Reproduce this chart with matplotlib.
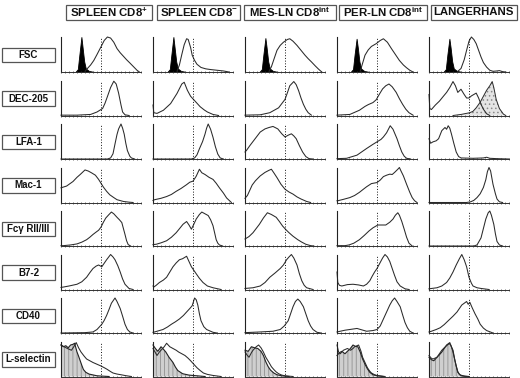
import numpy as np
import matplotlib
matplotlib.use("Agg")
import matplotlib.pyplot as plt
from matplotlib.patches import Rectangle

plt.rcParams['font.family'] = ['Liberation Sans', 'DejaVu Sans']
plt.rcParams['mathtext.fontset'] = 'custom'
plt.rcParams['mathtext.rm'] = 'Liberation Sans:bold'
plt.rcParams['mathtext.it'] = 'Liberation Sans:bold'
plt.rcParams['mathtext.bf'] = 'Liberation Sans:bold'
plt.rcParams['hatch.linewidth'] = 0.6

# ---------------- data ----------------
columns = ['SPLEEN CD8$^{+}$', 'SPLEEN CD8$^{-}$', 'MES-LN CD8$^{\\mathrm{int}}$',
           'PER-LN CD8$^{\\mathrm{int}}$', 'LANGERHANS']
rows = ['FSC', 'DEC-205', 'LFA-1', 'Mac-1', 'Fc\u03b3 RII/III', 'B7-2', 'CD40', 'L-selectin']
cutoff = 0.5  # dashed marker position (fraction of log axis)

FSC_NEG = [
    [(0.18,0),(0.21,0.08),(0.23,0.5),(0.255,1.0),(0.27,0.7),(0.29,0.3),(0.31,0.1),(0.35,0.03),(0.42,0)],
    [(0.18,0),(0.21,0.08),(0.23,0.5),(0.255,1.0),(0.27,0.7),(0.29,0.3),(0.31,0.1),(0.35,0.03),(0.42,0)],
    [(0.18,0),(0.21,0.08),(0.23,0.5),(0.255,0.97),(0.27,0.7),(0.29,0.3),(0.31,0.1),(0.35,0.03),(0.42,0)],
    [(0.17,0),(0.20,0.08),(0.22,0.5),(0.245,0.95),(0.26,0.7),(0.28,0.3),(0.30,0.1),(0.34,0.03),(0.41,0)],
    [(0.18,0),(0.21,0.08),(0.23,0.5),(0.255,0.95),(0.27,0.7),(0.29,0.3),(0.31,0.1),(0.35,0.03),(0.42,0)],
]
FSC_OPEN = [
    [(0.30,0.02),(0.33,0.1),(0.37,0.2),(0.41,0.33),(0.45,0.5),(0.50,0.72),(0.54,0.9),(0.58,1.0),(0.62,0.97),
     (0.66,0.85),(0.70,0.67),(0.74,0.55),(0.78,0.45),(0.82,0.35),(0.86,0.26),(0.89,0.19),(0.92,0.12),(0.95,0.05),(0.98,0)],
    [(0.30,0.02),(0.33,0.2),(0.36,0.5),(0.39,0.78),(0.42,0.95),(0.44,0.93),(0.47,0.7),(0.49,0.48),(0.52,0.33),
     (0.55,0.22),(0.60,0.13),(0.66,0.09),(0.72,0.07),(0.80,0.05),(0.88,0.03),(0.95,0)],
    [(0.30,0.02),(0.33,0.15),(0.37,0.42),(0.40,0.62),(0.44,0.76),(0.48,0.85),(0.53,0.93),(0.56,0.95),(0.60,0.88),
     (0.65,0.76),(0.70,0.62),(0.75,0.48),(0.79,0.38),(0.83,0.29),(0.88,0.17),(0.92,0.08),(0.96,0)],
    [(0.29,0.02),(0.32,0.25),(0.35,0.48),(0.39,0.63),(0.43,0.73),(0.49,0.81),(0.54,0.9),(0.58,0.95),(0.63,0.85),
     (0.68,0.67),(0.73,0.5),(0.78,0.33),(0.83,0.2),(0.87,0.12),(0.91,0.05),(0.95,0)],
    [(0.36,0.02),(0.40,0.1),(0.44,0.35),(0.47,0.62),(0.50,0.88),(0.53,1.0),(0.56,0.93),(0.59,0.81),(0.62,0.62),
     (0.65,0.43),(0.68,0.27),(0.72,0.14),(0.76,0.05),(0.80,0.02),(0.85,0.03),(0.88,0.04),(0.92,0.01),(0.96,0)],
]
DEC205 = [
    [(0.0,0.01),(0.2,0.01),(0.37,0.03),(0.45,0.1),(0.52,0.2),(0.55,0.35),(0.58,0.54),(0.62,0.8),(0.66,0.98),
     (0.69,0.9),(0.72,0.64),(0.75,0.3),(0.77,0.1),(0.80,0.02),(0.85,0)],
    [(0.0,0.3),(0.01,0.08),(0.05,0.06),(0.13,0.15),(0.22,0.34),(0.30,0.63),(0.36,0.9),(0.39,0.95),(0.43,0.72),
     (0.47,0.55),(0.51,0.45),(0.55,0.35),(0.59,0.25),(0.64,0.16),(0.68,0.1),(0.75,0.03),(0.82,0)],
    [(0.0,0.01),(0.19,0.02),(0.31,0.08),(0.42,0.22),(0.50,0.46),(0.53,0.65),(0.56,0.85),(0.61,0.97),(0.64,0.88),
     (0.67,0.71),(0.70,0.5),(0.73,0.32),(0.76,0.18),(0.79,0.08),(0.83,0.01)],
    [(0.0,0.01),(0.16,0.03),(0.28,0.15),(0.35,0.26),(0.39,0.31),(0.45,0.37),(0.49,0.45),(0.53,0.61),(0.57,0.76),
     (0.61,0.85),(0.65,0.9),(0.69,0.82),(0.74,0.66),(0.78,0.48),(0.82,0.32),(0.86,0.18),(0.90,0.08),(0.95,0.01)],
    [(0.0,0.6),(0.01,0.2),(0.03,0.17),(0.08,0.3),(0.13,0.41),(0.18,0.55),(0.22,0.66),(0.26,0.8),(0.30,0.97),
     (0.33,0.85),(0.36,0.66),(0.40,0.75),(0.44,0.6),(0.47,0.5),(0.50,0.5),(0.53,0.56),(0.56,0.6),(0.59,0.64),
     (0.62,0.5),(0.65,0.32),(0.68,0.18),(0.72,0.05),(0.76,0)],
]
DEC205_LC_DOTTED = [(0.30,0.0),(0.40,0.03),(0.51,0.08),(0.55,0.12),(0.59,0.22),(0.64,0.38),(0.68,0.55),
                    (0.72,0.72),(0.76,0.85),(0.79,0.97),(0.81,0.8),(0.84,0.46),(0.88,0.2),(0.93,0.04),(0.96,0)]
LFA1 = [
    [(0.0,0.0),(0.58,0.0),(0.62,0.03),(0.65,0.15),(0.675,0.43),(0.70,0.7),(0.72,0.86),(0.75,1.0),(0.77,0.88),
     (0.79,0.71),(0.81,0.45),(0.83,0.24),(0.86,0.08),(0.88,0.03),(0.92,0)],
    [(0.0,0.0),(0.48,0.0),(0.52,0.03),(0.55,0.12),(0.58,0.29),(0.62,0.5),(0.65,0.71),(0.67,0.88),(0.69,1.0),
     (0.72,0.85),(0.75,0.62),(0.78,0.35),(0.81,0.14),(0.84,0.03),(0.88,0)],
    [(0.0,0.2),(0.02,0.25),(0.06,0.38),(0.10,0.5),(0.15,0.65),(0.19,0.77),(0.25,0.86),(0.30,0.9),(0.35,0.93),
     (0.41,0.86),(0.46,0.72),(0.50,0.63),(0.54,0.68),(0.58,0.72),(0.61,0.66),(0.64,0.58),(0.68,0.38),(0.72,0.2),
     (0.76,0.07),(0.80,0.01),(0.85,0)],
    [(0.0,0.01),(0.12,0.02),(0.25,0.11),(0.37,0.3),(0.45,0.42),(0.50,0.49),(0.55,0.56),(0.58,0.63),(0.62,0.75),
     (0.665,0.95),(0.70,0.85),(0.75,0.58),(0.78,0.38),(0.81,0.2),(0.84,0.08),(0.87,0.02),(0.92,0)],
    [(0.0,0.58),(0.02,0.45),(0.05,0.49),(0.09,0.52),(0.12,0.58),(0.16,0.81),(0.20,0.9),(0.22,0.85),(0.24,0.95),
     (0.26,0.88),(0.28,0.72),(0.31,0.45),(0.34,0.2),(0.37,0.07),(0.40,0.03),(0.55,0.02),(0.68,0.03),(0.72,0.05),
     (0.76,0.02),(0.85,0.01),(1.0,0)],
]
MAC1 = [
    [(0.0,0.42),(0.07,0.47),(0.15,0.6),(0.20,0.72),(0.24,0.8),(0.30,0.93),(0.34,0.9),(0.38,0.85),(0.43,0.78),
     (0.47,0.66),(0.53,0.44),(0.57,0.32),(0.61,0.22),(0.66,0.14),(0.70,0.08),(0.78,0.03),(0.85,0.01),(0.9,0)],
    [(0.0,0.06),(0.02,0.08),(0.10,0.12),(0.17,0.17),(0.23,0.23),(0.29,0.32),(0.35,0.4),(0.42,0.51),(0.46,0.58),
     (0.50,0.61),(0.54,0.75),(0.58,0.95),(0.61,0.85),(0.65,0.8),(0.70,0.72),(0.75,0.66),(0.79,0.55),(0.83,0.42),
     (0.88,0.27),(0.92,0.13),(0.98,0)],
    [(0.0,0.12),(0.03,0.2),(0.06,0.35),(0.09,0.5),(0.13,0.62),(0.19,0.76),(0.25,0.86),(0.30,0.92),(0.33,0.95),
     (0.36,0.85),(0.40,0.71),(0.45,0.52),(0.50,0.38),(0.55,0.3),(0.60,0.24),(0.65,0.16),(0.70,0.1),(0.77,0.03),(0.82,0)],
    [(0.0,0.05),(0.01,0.05),(0.08,0.09),(0.16,0.14),(0.22,0.2),(0.28,0.29),(0.33,0.38),(0.37,0.45),(0.43,0.54),
     (0.50,0.57),(0.54,0.64),(0.58,0.74),(0.62,0.78),(0.66,0.81),(0.69,0.8),(0.72,0.86),(0.76,0.95),(0.78,1.0),
     (0.80,0.9),(0.83,0.76),(0.87,0.52),(0.91,0.29),(0.94,0.14),(0.97,0.05),(1.0,0)],
    [(0.0,0.0),(0.47,0.0),(0.52,0.02),(0.56,0.06),(0.60,0.14),(0.64,0.25),(0.68,0.43),(0.71,0.65),(0.73,0.88),
     (0.75,1.0),(0.77,0.9),(0.80,0.52),(0.83,0.25),(0.85,0.1),(0.88,0.02),(0.92,0)],
]
FCG = [
    [(0.0,0.01),(0.03,0.01),(0.12,0.03),(0.20,0.06),(0.26,0.11),(0.32,0.18),(0.36,0.25),(0.40,0.33),(0.44,0.4),
     (0.47,0.45),(0.50,0.54),(0.53,0.68),(0.56,0.8),(0.60,0.9),(0.63,0.97),(0.66,0.92),(0.70,0.82),(0.73,0.75),
     (0.76,0.67),(0.78,0.5),(0.80,0.33),(0.82,0.15),(0.84,0.04),(0.87,0)],
    [(0.0,0.04),(0.04,0.05),(0.10,0.09),(0.17,0.15),(0.23,0.25),(0.29,0.38),(0.34,0.52),(0.375,0.62),(0.42,0.7),
     (0.45,0.6),(0.48,0.48),(0.51,0.62),(0.54,0.77),(0.58,0.9),(0.61,0.97),(0.65,0.92),(0.69,0.87),(0.72,0.75),
     (0.75,0.58),(0.77,0.38),(0.79,0.18),(0.81,0.08),(0.83,0.03),(0.87,0)],
    [(0.0,0.2),(0.05,0.27),(0.10,0.38),(0.14,0.5),(0.18,0.62),(0.23,0.8),(0.28,0.95),(0.33,0.9),(0.39,0.82),
     (0.43,0.7),(0.47,0.57),(0.51,0.47),(0.55,0.38),(0.60,0.28),(0.66,0.18),(0.71,0.11),(0.76,0.05),(0.82,0.01),(0.86,0)],
    [(0.0,0.01),(0.10,0.01),(0.15,0.03),(0.21,0.08),(0.28,0.18),(0.34,0.3),(0.40,0.43),(0.45,0.52),(0.51,0.6),
     (0.56,0.6),(0.61,0.6),(0.66,0.68),(0.70,0.77),(0.73,0.88),(0.76,0.95),(0.78,0.88),(0.81,0.7),(0.84,0.48),
     (0.87,0.25),(0.90,0.08),(0.94,0)],
    [(0.0,0.0),(0.56,0.0),(0.60,0.03),(0.65,0.23),(0.68,0.5),(0.71,0.77),(0.74,0.95),(0.76,1.0),(0.78,0.88),
     (0.81,0.62),(0.83,0.35),(0.85,0.13),(0.88,0.03),(0.92,0)],
]
B72 = [
    [(0.0,0.06),(0.03,0.07),(0.10,0.1),(0.20,0.15),(0.26,0.22),(0.32,0.35),(0.36,0.48),(0.40,0.6),(0.44,0.67),
     (0.47,0.7),(0.51,0.65),(0.54,0.75),(0.57,0.85),(0.62,1.0),(0.65,0.93),(0.675,0.85),(0.71,0.68),(0.74,0.5),
     (0.77,0.3),(0.80,0.15),(0.85,0.03),(0.9,0)],
    [(0.0,0.1),(0.01,0.07),(0.04,0.12),(0.08,0.2),(0.13,0.27),(0.17,0.35),(0.21,0.5),(0.25,0.65),(0.29,0.76),
     (0.33,0.85),(0.37,0.88),(0.42,0.95),(0.45,0.8),(0.48,0.65),(0.51,0.55),(0.54,0.45),(0.58,0.32),(0.625,0.2),
     (0.68,0.1),(0.75,0.05),(0.85,0)],
    [(0.0,0.03),(0.10,0.05),(0.19,0.1),(0.25,0.2),(0.31,0.35),(0.38,0.48),(0.44,0.6),(0.48,0.7),(0.52,0.85),
     (0.55,0.93),(0.58,1.0),(0.61,0.9),(0.65,0.7),(0.68,0.45),(0.71,0.25),(0.74,0.12),(0.77,0.05),(0.85,0)],
    [(0.0,0.5),(0.01,0.2),(0.03,0.12),(0.06,0.1),(0.13,0.14),(0.20,0.15),(0.27,0.13),(0.33,0.1),(0.37,0.15),
     (0.41,0.25),(0.44,0.38),(0.47,0.5),(0.50,0.6),(0.535,0.75),(0.57,0.9),(0.60,1.0),(0.63,0.93),(0.66,0.8),
     (0.69,0.6),(0.72,0.4),(0.75,0.22),(0.79,0.1),(0.85,0.02),(0.9,0)],
    [(0.0,0.02),(0.10,0.05),(0.16,0.1),(0.22,0.2),(0.26,0.33),(0.30,0.5),(0.34,0.7),(0.38,0.88),(0.41,1.0),
     (0.44,0.85),(0.47,0.65),(0.50,0.35),(0.53,0.18),(0.55,0.1),(0.60,0.05),(0.65,0.03),(0.75,0)],
]
CD40 = [
    [(0.0,0.0),(0.30,0.01),(0.40,0.03),(0.45,0.1),(0.51,0.25),(0.54,0.36),(0.57,0.5),(0.60,0.67),(0.63,0.85),
     (0.675,1.0),(0.70,0.9),(0.74,0.7),(0.77,0.48),(0.80,0.25),(0.83,0.1),(0.86,0.03),(0.9,0)],
    [(0.0,0.02),(0.02,0.03),(0.125,0.1),(0.18,0.17),(0.23,0.25),(0.28,0.32),(0.33,0.4),(0.38,0.5),(0.42,0.6),
     (0.46,0.7),(0.49,0.78),(0.52,1.0),(0.54,0.95),(0.56,0.8),(0.58,0.55),(0.60,0.35),(0.635,0.18),(0.67,0.1),
     (0.75,0.02),(0.8,0)],
    [(0.0,0.01),(0.19,0.03),(0.35,0.05),(0.44,0.1),(0.49,0.2),(0.54,0.35),(0.57,0.55),(0.60,0.75),(0.63,0.9),
     (0.66,0.97),(0.69,0.9),(0.73,0.75),(0.76,0.55),(0.79,0.35),(0.82,0.2),(0.85,0.1),(0.90,0.02),(0.95,0)],
    [(0.0,0.03),(0.04,0.05),(0.10,0.08),(0.16,0.1),(0.25,0.13),(0.31,0.09),(0.37,0.05),(0.45,0.07),(0.50,0.1),
     (0.54,0.2),(0.58,0.4),(0.62,0.6),(0.66,0.8),(0.69,0.92),(0.72,1.0),(0.75,0.9),(0.79,0.75),(0.82,0.52),
     (0.85,0.3),(0.88,0.15),(0.91,0.05),(0.95,0)],
    [(0.0,0.03),(0.03,0.05),(0.09,0.1),(0.14,0.15),(0.19,0.24),(0.24,0.35),(0.30,0.48),(0.35,0.6),(0.38,0.7),
     (0.41,0.8),(0.44,0.85),(0.47,0.9),(0.49,0.82),(0.51,0.88),(0.54,0.72),(0.575,0.55),(0.61,0.4),(0.64,0.25),
     (0.68,0.14),(0.72,0.07),(0.8,0)],
]
LSEL_FILLED = [
    [(0.0,0.9),(0.03,0.85),(0.06,0.88),(0.09,0.82),(0.12,0.9),(0.15,0.92),(0.17,0.95),(0.20,0.7),(0.22,0.58),
     (0.24,0.45),(0.26,0.32),(0.28,0.2),(0.31,0.12),(0.35,0.07),(0.45,0.02),(0.6,0)],
    [(0.0,0.9),(0.03,0.8),(0.06,0.72),(0.10,0.85),(0.13,0.78),(0.16,0.7),(0.20,0.55),(0.25,0.4),(0.28,0.27),
     (0.31,0.17),(0.37,0.08),(0.45,0.04),(0.55,0.02),(0.65,0)],
    [(0.0,0.75),(0.04,0.72),(0.08,0.85),(0.12,0.82),(0.16,0.8),(0.20,0.72),(0.23,0.6),(0.26,0.42),(0.29,0.28),
     (0.32,0.18),(0.36,0.1),(0.40,0.05),(0.46,0.02),(0.55,0)],
    [(0.0,0.6),(0.03,0.68),(0.06,0.72),(0.10,0.65),(0.13,0.72),(0.16,0.78),(0.20,0.9),(0.23,0.86),(0.26,0.85),
     (0.29,0.7),(0.32,0.5),(0.35,0.35),(0.38,0.22),(0.41,0.12),(0.45,0.05),(0.5,0.02),(0.58,0)],
    [(0.0,0.55),(0.03,0.48),(0.06,0.45),(0.10,0.55),(0.13,0.62),(0.16,0.7),(0.19,0.8),(0.22,0.9),(0.25,0.95),
     (0.27,0.9),(0.30,0.75),(0.32,0.5),(0.34,0.3),(0.36,0.12),(0.39,0.04),(0.45,0.01),(0.5,0)],
]
LSEL_OPEN = [
    [(0.0,0.9),(0.04,0.85),(0.08,0.8),(0.13,0.75),(0.16,0.85),(0.19,0.97),(0.22,0.82),(0.25,0.7),(0.29,0.58),
     (0.32,0.5),(0.36,0.45),(0.40,0.4),(0.45,0.35),(0.50,0.3),(0.55,0.24),(0.58,0.2),(0.62,0.14),(0.65,0.1),
     (0.70,0.07),(0.75,0.05),(0.82,0.02),(0.88,0)],
    [(0.0,0.8),(0.03,0.68),(0.05,0.6),(0.08,0.7),(0.10,0.75),(0.14,0.85),(0.17,0.95),(0.21,0.85),(0.25,0.8),
     (0.29,0.75),(0.32,0.7),(0.36,0.65),(0.40,0.6),(0.44,0.52),(0.47,0.45),(0.51,0.35),(0.55,0.25),(0.59,0.17),
     (0.63,0.1),(0.68,0.06),(0.75,0.03),(0.85,0)],
    [(0.0,0.7),(0.03,0.6),(0.05,0.55),(0.08,0.68),(0.10,0.75),(0.14,0.85),(0.17,0.9),(0.20,0.82),(0.23,0.7),
     (0.26,0.55),(0.30,0.4),(0.33,0.28),(0.36,0.2),(0.39,0.13),(0.42,0.08),(0.46,0.04),(0.5,0.02),(0.6,0)],
    [(0.0,0.9),(0.02,0.7),(0.04,0.65),(0.08,0.75),(0.13,0.8),(0.17,0.75),(0.20,0.8),(0.22,0.85),(0.25,0.88),
     (0.27,0.9),(0.30,0.72),(0.32,0.55),(0.35,0.4),(0.38,0.25),(0.41,0.15),(0.43,0.1),(0.47,0.05),(0.5,0.03),(0.6,0)],
    [(0.0,0.6),(0.03,0.52),(0.05,0.5),(0.10,0.55),(0.13,0.65),(0.16,0.75),(0.19,0.82),(0.22,0.88),(0.24,0.92),
     (0.26,0.97),(0.28,0.85),(0.30,0.7),(0.32,0.5),(0.34,0.3),(0.36,0.14),(0.38,0.06),(0.42,0.01),(0.48,0)],
]

open_rows = [FSC_OPEN, DEC205, LFA1, MAC1, FCG, B72, CD40, LSEL_OPEN]

# ---------------- layout ----------------
W, H = 520, 378
fig = plt.figure(figsize=(W / 100, H / 100), dpi=100)
fig.patch.set_facecolor('white')

col_left = [61, 153, 245, 337, 429]
panel_w, panel_h = 80, 35
row_bottom = [72 + 43.5 * j for j in range(8)]
header_boxes = [(66, 152), (157, 240), (244, 336), (339, 427), (431, 517)]
LINE = '#2a2a2a'

def fx(px):
    return px / W

def fy(py):
    return 1 - py / H

def curve(pts):
    a = np.array(pts, dtype=float)
    return a[:, 0], a[:, 1]

# column headers
for (x0, x1), label in zip(header_boxes, columns):
    fig.patches.append(Rectangle((fx(x0), fy(19.5)), fx(x1 - x0), (15.0 / H),
                                 transform=fig.transFigure, fill=False,
                                 edgecolor='#555555', linewidth=0.9))
    fig.text(fx((x0 + x1) / 2), fy(12), label, ha='center', va='center',
             fontsize=8.2, fontweight='bold', color='#111111')

# row labels
for j, label in enumerate(rows):
    yc = row_bottom[j] - panel_h / 2 + 0.5
    fig.patches.append(Rectangle((fx(1.5), fy(yc + 7.2)), fx(53.5), 14.4 / H,
                                 transform=fig.transFigure, fill=False,
                                 edgecolor='#555555', linewidth=0.9))
    fig.text(fx(28.5), fy(yc), label, ha='center', va='center',
             fontsize=7.0, fontweight='bold', color='#111111')

for j in range(8):
    for i in range(5):
        ax = fig.add_axes([fx(col_left[i]), fy(row_bottom[j]), fx(panel_w), panel_h / H])
        ax.set_xlim(0, 1)
        ax.set_ylim(0, 1.0)
        for s in ['top', 'right']:
            ax.spines[s].set_visible(False)
        ax.spines['left'].set_linewidth(0.8)
        ax.spines['left'].set_color('#222222')
        ax.spines['bottom'].set_linewidth(0.7)
        ax.spines['bottom'].set_color('#333333')
        ax.set_yticks([])
        ax.set_xticks(np.linspace(0, 1, 21))
        ax.tick_params(axis='x', length=1.6, width=0.5, direction='inout',
                       color='#333333', labelbottom=False)
        ax.patch.set_alpha(0)

        if j == 0:
            xs, ys = curve(FSC_NEG[i])
            ax.fill_between(xs, 0, ys, color='black', linewidth=0.6, clip_on=False)
        if j == 1 and i == 4:
            xs, ys = curve(DEC205_LC_DOTTED)
            ax.fill_between(xs, 0, ys, facecolor='#e4e4e4', hatch='....',
                            edgecolor='#8a8a8a', linewidth=0, clip_on=False)
            ax.plot(xs, ys, color=LINE, lw=0.7, clip_on=False)
        if j == 7:
            xs, ys = curve(LSEL_FILLED[i])
            ax.fill_between(xs, 0, ys, facecolor='#cfcfcf', hatch='||||',
                            edgecolor='#909090', linewidth=0, clip_on=False)
            ax.plot(xs, ys, color='#222222', lw=0.8, clip_on=False)

        xs, ys = curve(open_rows[j][i])
        ax.plot(xs, ys, color=LINE, lw=0.75, clip_on=False)
        ax.axvline(cutoff, color='#111111', lw=0.7, ls=(0, (1.0, 1.8)))

fig.savefig('out.png', dpi=100, facecolor='white')
